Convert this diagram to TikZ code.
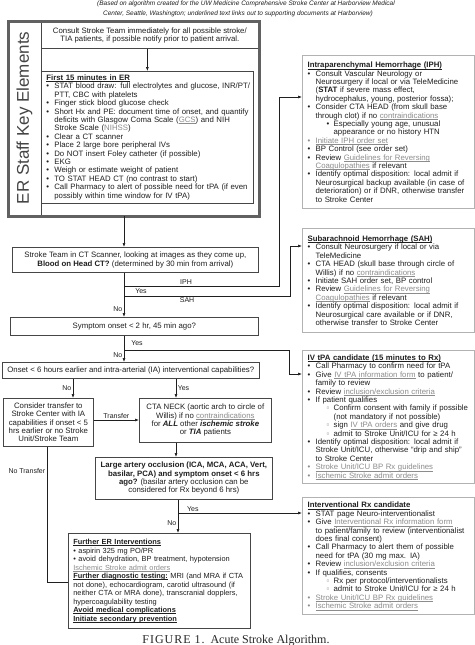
\documentclass[tikz,border=0pt]{standalone}
\usepackage{fontspec}
\setmainfont{Liberation Sans}
\newfontfamily\capfont{Liberation Serif}
\usetikzlibrary{arrows.meta,calc,positioning}

\definecolor{linkgray}{gray}{0.55}
\definecolor{framegray}{gray}{0.38}
\definecolor{inkgray}{gray}{0.12}

% list lines for the boxes
\newcommand{\ulx}[1]{\setbox0\hbox{#1}\rlap{\rule[-1.3pt]{\wd0}{0.45pt}}\box0}
\newcommand{\lnk}[1]{{\color{linkgray}\ulx{#1}}}
\newcommand{\ttl}[1]{\mbox{\textbf{\ulx{#1}}}}
\newcommand{\itm}[1]{\makebox[8pt][l]{\textbullet}\mbox{#1}}
\newcommand{\litm}[1]{\makebox[8pt][l]{\color{linkgray}\textbullet}\mbox{\lnk{#1}}}
\newcommand{\cnt}[1]{\hspace*{8pt}\mbox{#1}}
\newcommand{\sitm}[1]{\hspace*{19pt}\makebox[7pt][l]{\textbullet}\mbox{#1}}
\newcommand{\sqitm}[1]{\hspace*{19pt}\makebox[7pt][l]{\color{linkgray}▫}\mbox{#1}}
\newcommand{\scnt}[1]{\hspace*{26pt}\mbox{#1}}

\tikzset{
  box/.style={draw=gray!55!black, line width=0.7pt, fill=white, inner xsep=5pt,
    inner ysep=3pt, text=inkgray, font=\fontsize{7.8}{8.4}\selectfont},
  listbox/.style={box, anchor=north west, align=left},
  sidebox/.style={listbox, draw=gray!60, line width=1.3pt, text width=162pt},
  askbox/.style={box, anchor=north west, align=center},
  arr/.style={-{Latex[length=4pt,width=3pt]}, line width=0.6pt, inkgray},
  wire/.style={line width=0.6pt, inkgray},
  lbl/.style={font=\fontsize{7}{7}\selectfont, inner sep=1.5pt, text=inkgray},
}

\begin{document}
\begin{tikzpicture}[x=1pt, y=-1pt]
  \fill[white] (0,0) rectangle (474,645);
  \useasboundingbox (0,0) rectangle (474,645);

  % header
  \node[anchor=base, font=\itshape\fontsize{6.5}{6.5}\selectfont, text=inkgray] (head1) at (246,5.5)
    {(Based on algorithm created for the UW Medicine Comprehensive Stroke Center at Harborview Medical};
  \node[anchor=base, font=\itshape\fontsize{6.5}{6.5}\selectfont, text=inkgray] (head2) at (238,15.5)
    {Center, Seattle, Washington; underlined text links out to supporting documents at Harborview)};

  % ER staff key elements
  \node[askbox, minimum width=217pt, minimum height=26pt] (consult) at (41,22)
    {Consult Stroke Team immediately for all possible stroke/\\
     TIA patients, if possible notify prior to patient arrival.};
  \node[listbox, text width=202pt, minimum height=132pt] (first) at (41,71) {%
    \ttl{First 15 minutes in ER}\\
    \itm{STAT blood draw: full electrolytes and glucose, INR/PT/}\\
    \cnt{PTT, CBC with platelets}\\
    \itm{Finger stick blood glucose check}\\
    \itm{Short Hx and PE: document time of onset, and quantify}\\
    \cnt{deficits with Glasgow Coma Scale (\lnk{GCS}) and NIH}\\
    \cnt{Stroke Scale ({\color{linkgray}NIHSS})}\\
    \itm{Clear a CT scanner}\\
    \itm{Place 2 large bore peripheral IVs}\\
    \itm{Do NOT insert Foley catheter (if possible)}\\
    \itm{EKG}\\
    \itm{Weigh or estimate weight of patient}\\
    \itm{TO STAT HEAD CT (no contrast to start)}\\
    \itm{Call Pharmacy to alert of possible need for tPA (if even}\\
    \cnt{possibly within time window for IV tPA)}};
  \draw[wire, gray!55!black] (41,21) -- (41,216);
  \draw[line width=3pt, framegray] (8,21) rectangle (259,216);
  \node[rotate=90, font=\fontsize{17}{17}\selectfont, text=framegray!70!black] (erkey) at (24.5,118)
    {ER Staff Key Elements};
  \coordinate (trunk) at (124,216);

  % left column
  \node[askbox, minimum width=246pt, minimum height=25pt] (ct) at (12,247)
    {Stroke Team in CT Scanner, looking at images as they come up,\\
     \textbf{Blood on Head CT?} (determined by 30 min from arrival)};
  \node[askbox, minimum width=248pt, minimum height=18pt] (symp) at (10,317)
    {Symptom onset < 2 hr, 45 min ago?};
  \node[askbox, minimum width=256pt, minimum height=16pt] (onset) at (2,362)
    {Onset < 6 hours earlier and intra-arterial (IA) interventional capabilities?};
  \node[askbox, minimum width=90pt, minimum height=48pt, inner xsep=2pt] (consider) at (3,398)
    {Consider transfer to\\ Stroke Center with IA\\ capabilities if onset < 5\\
     hrs earlier or no Stroke\\ Unit/Stroke Team};
  \node[askbox, minimum width=132pt, minimum height=44pt] (cta) at (139,398)
    {CTA NECK (aortic arch to circle of\\ Willis) if no \lnk{contraindications}\\
     for \textbf{\textit{ALL}} other \textbf{\textit{ischemic stroke}}\\ or \textbf{\textit{TIA}} patients};
  \node[askbox, minimum width=177pt, minimum height=42pt] (large) at (95,457)
    {\textbf{Large artery occlusion (ICA, MCA, ACA, Vert,}\\
     \textbf{basilar, PCA) and symptom onset < 6 hrs}\\
     \textbf{ago?} (basilar artery occlusion can be\\ considered for Rx beyond 6 hrs)};
  \node[listbox, text width=172pt, minimum height=95pt, font=\fontsize{7.4}{8.5}\selectfont] (further) at (68,533) {%
    \ttl{Further ER Interventions}\\
    \mbox{\textbullet\ aspirin 325 mg PO/PR}\\
    \mbox{\textbullet\ avoid dehydration, BP treatment, hypotension}\\
    \mbox{\lnk{Ischemic Stroke admit orders}}\\
    \mbox{\textbf{\ulx{Further diagnostic testing:}} MRI (and MRA if CTA}\\
    \mbox{not done), echocardiogram, carotid ultrasound (if}\\
    \mbox{neither CTA or MRA done), transcranial dopplers,}\\
    \mbox{hypercoagulability testing}\\
    \ttl{Avoid medical complications}\\
    \ttl{Initiate secondary prevention}};

  % right column
  \node[sidebox, minimum height=153pt] (iph) at (302,55) {%
    \ttl{Intraparenchymal Hemorrhage (IPH)}\\
    \itm{Consult Vascular Neurology or}\\
    \cnt{Neurosurgery if local or via TeleMedicine}\\
    \cnt{(\textbf{STAT} if severe mass effect,}\\
    \cnt{hydrocephalus, young, posterior fossa);}\\
    \itm{Consider CTA HEAD (from skull base}\\
    \cnt{through clot) if no \lnk{contraindications}}\\
    \sitm{Especially young age, unusual}\\
    \scnt{appearance or no history HTN}\\
    \litm{Initiate IPH order set}\\
    \itm{BP Control (see order set)}\\
    \itm{Review \lnk{Guidelines for Reversing}}\\
    \cnt{\lnk{Coagulopathies} if relevant}\\
    \itm{Identify optimal disposition: local admit if}\\
    \cnt{Neurosurgical backup available (in case of}\\
    \cnt{deterioration) or if DNR, otherwise transfer}\\
    \cnt{to Stroke Center}};
  \node[sidebox, minimum height=104pt] (sah) at (302,228) {%
    \ttl{Subarachnoid Hemorrhage (SAH)}\\
    \itm{Consult Neurosurgery if local or via}\\
    \cnt{TeleMedicine}\\
    \itm{CTA HEAD (skull base through circle of}\\
    \cnt{Willis) if no \lnk{contraindications}}\\
    \itm{Initiate SAH order set, BP control}\\
    \itm{Review \lnk{Guidelines for Reversing}}\\
    \cnt{\lnk{Coagulopathies} if relevant}\\
    \itm{Identify optimal disposition: local admit if}\\
    \cnt{Neurosurgical care available or if DNR,}\\
    \cnt{otherwise transfer to Stroke Center}};
  \node[sidebox, minimum height=133pt] (ivtpa) at (302,350) {%
    \ttl{IV tPA candidate (15 minutes to Rx)}\\
    \itm{Call Pharmacy to confirm need for tPA}\\
    \itm{Give \lnk{IV tPA information form} to patient/}\\
    \cnt{family to review}\\
    \itm{Review \lnk{inclusion/exclusion criteria}}\\
    \itm{If patient qualifies}\\
    \sqitm{Confirm consent with family if possible}\\
    \scnt{(not mandatory if not possible)}\\
    \sqitm{sign \lnk{IV tPA orders} and give drug}\\
    \sqitm{admit to Stroke Unit/ICU for ≥ 24 h}\\
    \itm{Identify optimal disposition: local admit if}\\
    \cnt{Stroke Unit/ICU, otherwise “drip and ship”}\\
    \cnt{to Stroke Center}\\
    \litm{Stroke Unit/ICU BP Rx guidelines}\\
    \litm{Ischemic Stroke admit orders}};
  \node[sidebox, minimum height=117pt] (intv) at (302,497) {%
    \ttl{Interventional Rx candidate}\\
    \itm{STAT page Neuro-interventionalist}\\
    \itm{Give \lnk{Interventional Rx information form}}\\
    \cnt{to patient/family to review (interventionalist}\\
    \cnt{does final consent)}\\
    \itm{Call Pharmacy to alert them of possible}\\
    \cnt{need for tPA (30 mg max. IA)}\\
    \itm{Review \lnk{inclusion/exclusion criteria}}\\
    \itm{If qualifies, consents}\\
    \sqitm{Rx per protocol/interventionalists}\\
    \sqitm{admit to Stroke Unit/ICU for ≥ 24 h}\\
    \litm{Stroke Unit/ICU BP Rx guidelines}\\
    \litm{Ischemic Stroke admit orders}};

  % connectors
  \coordinate (jiph) at (124,286);
  \coordinate (jsah) at (124,296);
  \coordinate (jiv) at (124,350);
  \coordinate (nox) at (73,0);
  \coordinate (yesx) at (176,0);
  \coordinate (lax) at (178,0);
  \coordinate (transy) at (0,420);
  \coordinate (jintv) at (178,513);
  \coordinate (ntx) at (47,0);
  \coordinate (nty) at (0,582);
  \coordinate (iphin) at ([yshift=-42pt]iph.north west);
  \coordinate (sahin) at ([yshift=-18pt]sah.north west);
  \coordinate (ivin) at ([yshift=-24pt]ivtpa.north west);

  \draw[arr] (consult.south -| first.north) -- (first.north);
  \draw[arr] (trunk) -- (ct.north -| trunk);
  \draw[arr] (ct.south -| trunk) -- (symp.north -| trunk) node[pos=0.82, left, lbl] {No};
  \draw[arr] (jiph) -| ([xshift=-23pt]iphin) node[pos=0.2, above, lbl] {IPH} -- (iphin);
  \draw[arr] (jsah) -| ([xshift=-12pt]sahin) node[pos=0.19, below, lbl] {SAH} -- (sahin);
  \node[lbl] (yesblood) at (141,291) {Yes};
  \draw[arr] (jiv) -| ([xshift=-13pt]ivin) -- (ivin);
  \node[lbl] (yessymp) at (137,343) {Yes};
  \draw[arr] (symp.south -| trunk) -- (onset.north -| trunk) node[pos=0.72, left, lbl] {No};
  \draw[arr] (onset.south -| nox) -- (consider.north -| nox) node[midway, left, lbl] {No};
  \draw[arr] (onset.south -| yesx) -- (cta.north -| yesx) node[midway, right, lbl] {Yes};
  \draw[arr] (consider.east |- transy) -- (cta.west |- transy) node[midway, above, lbl] {Transfer};
  \draw[arr] (cta.south -| yesx) -- (large.north -| yesx);
  \draw[arr] (large.south -| lax) -- (further.north -| lax) node[pos=0.7, left, lbl] {No};
  \draw[arr] (jintv) -- (intv.west |- jintv) node[pos=0.12, above, lbl] {Yes};
  \draw[wire] (consider.south -| ntx) |- (further.west |- nty) node[pos=0.09, left, lbl] {No Transfer};

  % caption
  \node[anchor=base, font=\capfont\fontsize{12}{12}\selectfont, text=gray!30!black] (caption) at (236,643)
    {{\addfontfeature{LetterSpace=8}FIGURE 1.}\ \ Acute Stroke Algorithm.};
\end{tikzpicture}
\end{document}
